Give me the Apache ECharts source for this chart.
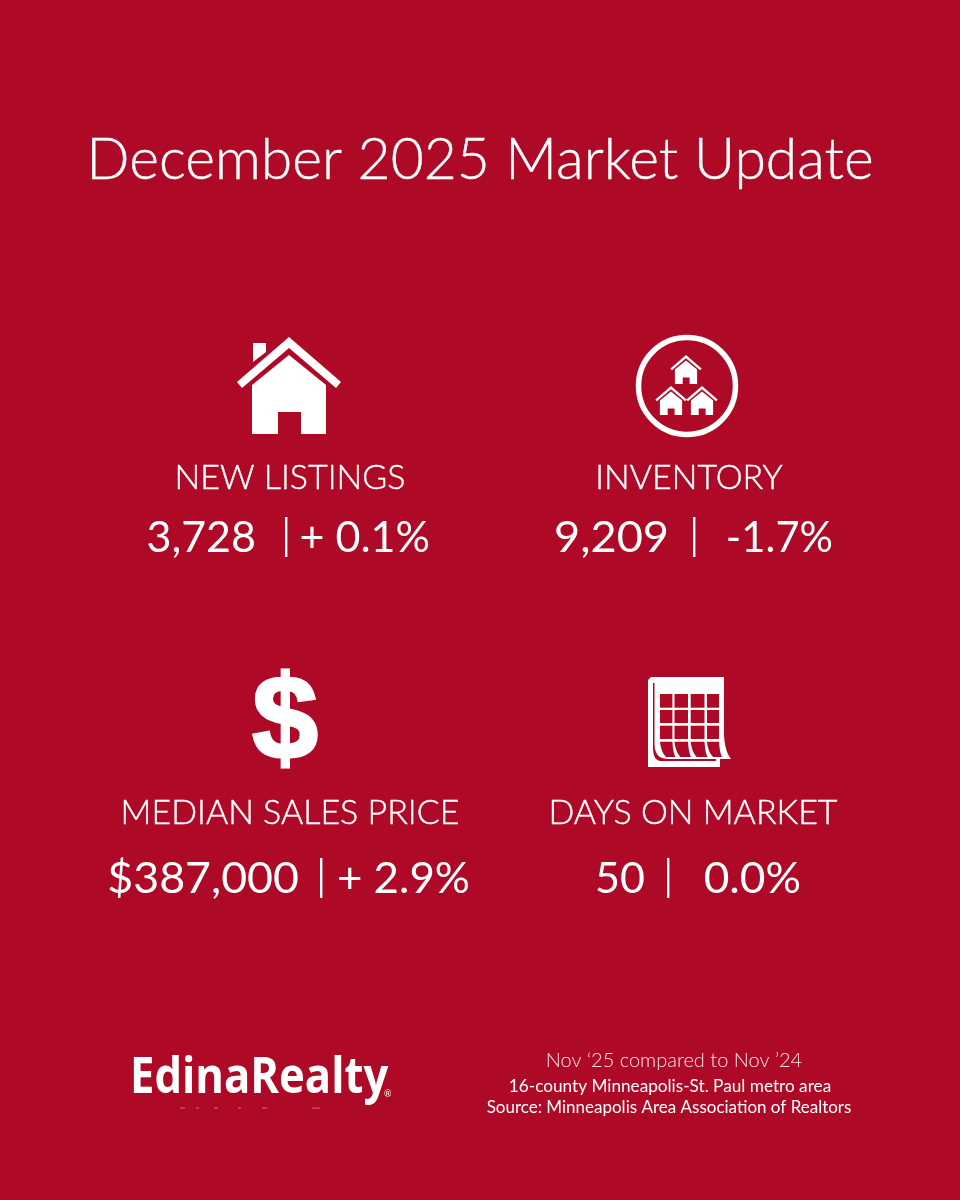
<!DOCTYPE html>
<html><head><meta charset="utf-8">
<style>html,body{margin:0;padding:0;background:#ae0a27}#c{width:960px;height:1200px}</style>
<script src="https://cdn.jsdelivr.net/npm/echarts@6/dist/echarts.min.js"></script>
</head><body><div id="c"></div>
<script>
const titleText = "December 2025 Market Update";
const metricNames = ["NEW LISTINGS", "INVENTORY", "MEDIAN SALES PRICE", "DAYS ON MARKET"];
const metricValues = ["3,728", "9,209", "$387,000", "50"];
const metricChanges = ["+ 0.1%", "-1.7%", "+ 2.9%", "0.0%"];
const footerLines = ["Nov ‘25 compared to Nov ’24", "16-county Minneapolis-St. Paul metro area", "Source: Minneapolis Area Association of Realtors"];
const brandName = "EdinaRealty";

const BG = "#ae0a27", W = "#ffffff", FONT = "Lato, 'Open Sans', sans-serif";
const chart = echarts.init(document.getElementById('c'), null, {renderer:'canvas'});

function txt(s, x, base, size, align, weight, extra, sx){
  return {type:'text', x, y:base-0.35*size, scaleX:sx||1, silent:true, style:Object.assign({text:s, fill:W, font:`${weight||300} ${size}px ${FONT}`, textAlign:align||'center', textVerticalAlign:'middle'}, extra||{})};
}
function poly(points, fill){ return {type:'polygon', silent:true, shape:{points}, style:{fill:fill||W}}; }
function rect(x,y,width,height,fill,opacity){ return {type:'rect',silent:true,shape:{x,y,width,height},style:{fill:fill||W,opacity:opacity==null?1:opacity}}; }
function quad(a,c,b,n){ const o=[]; for(let i=0;i<=n;i++){const t=i/n,u=1-t; o.push([u*u*a[0]+2*u*t*c[0]+t*t*b[0],u*u*a[1]+2*u*t*c[1]+t*t*b[1]]);} return o; }
function house(cx, top, k, chimney){
  const P=a=>a.map(p=>[cx+p[0]*k, top+p[1]*k]);
  const out=[
    poly(P([[0,0],[52,45],[47,51],[0,11],[-47,51],[-52,45]])),
    poly(P([[0,18],[37,48],[37,97],[-37,97],[-37,48]])),
    poly(P([[12,97],[12,75],[-11,75],[-11,97]]),BG)
  ];
  if(chimney) out.push(poly(P([[-36,6],[-23,6],[-23,15],[-36,25]])));
  return out;
}
const g=[];
const thin={stroke:W,lineWidth:0.4};
g.push(txt(titleText,480,181,57,'center',300,thin));
const nameX=[290,689,290,693], nameY=[490,490,825,825];
metricNames.forEach((n,i)=>g.push(txt(n,nameX[i],nameY[i],34,'center',300,thin)));
const valX=[256,669,299,645], sepX=[286,694,321,668], chgX=[430,833,470,801], rowY=[553,553,894,894];
const valWiden=[1,1.05,1.04,1], chgWiden=[1,0.97,1.02,1.03];
metricValues.forEach((v,i)=>{
  g.push(txt(v,valX[i],rowY[i],43,'right',400,null,valWiden[i]));
  g.push(rect(sepX[i]-1,rowY[i]-36,2.4,40));
  g.push(txt(metricChanges[i],chgX[i],rowY[i],43,'right',400,null,chgWiden[i]));
});
g.push(...house(289,337,1,true));
g.push({type:'circle',silent:true,shape:{cx:687,cy:386,r:48.5},style:{fill:'none',stroke:W,lineWidth:5.5}});
g.push(...house(686,355,0.3),...house(671,386,0.3),...house(702,386,0.3));
g.push({type:'text',silent:true,x:285,y:725,style:{text:"$",fill:W,font:"700 118px 'Liberation Sans'",textAlign:'center',textVerticalAlign:'middle',stroke:W,lineWidth:3}});
// calendar
g.push(poly([[648,680],[651,677],[724,677],...quad([724,735],[725,752],[731,759],6),[720,759],[720,767],[648,767]]));
g.push(poly([[653,683],[654.5,683],...quad([654.5,745],[655,759],[668,759],6),[716,759],[716,761],...quad([660,761],[653,760],[653,748],5)],BG));
[660,674.5,690.7,707].forEach((x,c)=>{
  const w=[12.4,13.5,13.8,12][c];
  [694,710,725.7].forEach((y,r)=>{ g.push(rect(x,y,w,[13.7,13,13.3][r],BG)); });
  const L=x,R=x+w;
  g.push(poly([[L,741.7],[R,741.7],...quad([R,741.7],[R+0.5,752],[R+3,757],5),...quad([L+6,757],[L+1,752],[L,741.7],5)],BG));
});
// logo
g.push(txt(brandName,130,1096,51,'left',700,{font:"700 51px 'Open Sans', Lato, sans-serif"},0.855));
g.push(txt("®",384,1097,9,'left',400));
[[180,5],[196,3],[214,4],[238,3],[262,5],[312,8]].forEach(d=>g.push(rect(d[0],1107.5,d[1],1.2,W,0.35)));
// footer
g.push(txt(footerLines[0],674,1068,20,'center',300,{opacity:0.9}));
g.push(txt(footerLines[1],670,1092,17.2,'center',400));
g.push(txt(footerLines[2],669,1113,17,'center',400));

chart.setOption({backgroundColor:BG, animation:false, graphic:{elements:g}});
</script></body></html>
